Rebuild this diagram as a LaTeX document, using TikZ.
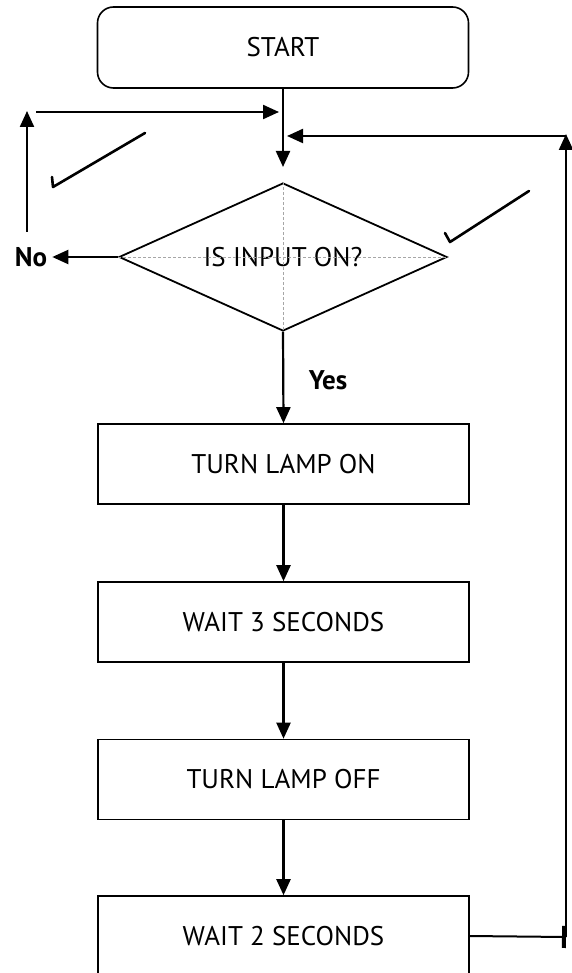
\documentclass[tikz,border=0pt]{standalone}
\usepackage{fontspec}
\setmainfont{PT Sans}
\usetikzlibrary{shapes.geometric,arrows.meta}

\begin{document}
\begin{tikzpicture}[x=1pt,y=-1pt,
    font=\fontsize{27}{32}\selectfont,
    arr/.style={line width=2.2pt,-{Triangle[length=16pt,width=14pt]}},
    procbox/.style={draw,line width=1.6pt,minimum width=371pt,minimum height=80pt,inner sep=0pt},
    tick/.style={line width=2.6pt,line cap=round,line join=round},
    guide/.style={gray!70,densely dashed,line width=0.8pt}]
    \useasboundingbox (0,0) rectangle (572,973);

    \node[procbox,rounded corners=16pt,minimum height=81pt] (start) at (283,47.5) {START};
    \node[draw,diamond,aspect=2.2,line width=1.8pt,minimum width=328pt,minimum height=148pt,inner sep=0pt] (dec) at (283,257) {IS INPUT ON?};
    \draw[guide] (dec.west) -- (dec.east);
    \draw[guide] (dec.north) -- (283,345);

    \node[procbox] (on) at (283.5,464) {TURN LAMP ON};
    \node[procbox] (w3) at (283.5,622) {WAIT 3 SECONDS};
    \node[procbox] (off) at (283.5,779.5) {TURN LAMP OFF};
    \node[procbox] (w2) at (283.5,936) {WAIT 2 SECONDS};

    \node[font=\fontsize{27}{32}\selectfont\bfseries] (yes) at (328,380) {Yes};
    \node[font=\fontsize{27}{32}\selectfont\bfseries,inner sep=5pt] (no) at (31,257) {No};

    \coordinate (j1) at (283,167);
    \draw[arr] (start.south) -- (j1);
    \draw[arr] (dec.south) -- (on.north);
    \draw[arr] (on.south) -- (w3.north);
    \draw[arr] (w3.south) -- (off.north);
    \draw[arr] (off.south) -- (w2.north);

    \draw[arr] (dec.west) -- (no.east);
    \coordinate (lb) at (27,232);
    \coordinate (lt) at (27,111);
    \coordinate (ls) at (36,112);
    \coordinate (le) at (279,112);
    \draw[arr] (lb) -- (lt);
    \draw[arr] (ls) -- (le);

    \coordinate (rb) at (566,937);
    \coordinate (rt) at (566,134);
    \coordinate (re) at (287,136);
    \draw[line width=2pt,-{Bar[width=22pt,line width=4pt]}] (w2.east) -- (rb);
    \draw[arr] (rb) -- (rt);
    \draw[arr] (rt |- re) -- (re);

    \draw[tick] (52,177) -- (53,187) -- (145,133);
    \draw[tick] (445,233) -- (450,242) -- (529,191);
\end{tikzpicture}
\end{document}
